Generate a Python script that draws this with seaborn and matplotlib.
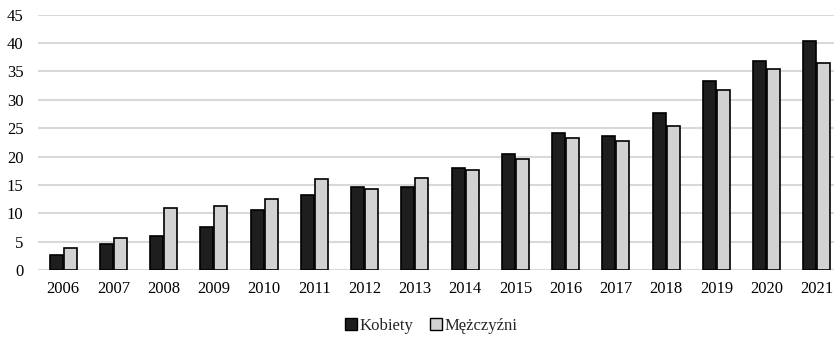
import matplotlib
matplotlib.use("Agg")
import matplotlib.pyplot as plt
import seaborn as sns
import pandas as pd

years = ["2006", "2007", "2008", "2009", "2010", "2011", "2012", "2013",
         "2014", "2015", "2016", "2017", "2018", "2019", "2020", "2021"]
kobiety = [2.7, 4.6, 6.0, 7.5, 10.6, 13.2, 14.6, 14.6,
           18.0, 20.4, 24.1, 23.7, 27.7, 33.4, 36.8, 40.3]
mezczyzni = [3.8, 5.6, 11.0, 11.2, 12.6, 16.0, 14.2, 16.3,
             17.6, 19.6, 23.3, 22.7, 25.4, 31.7, 35.4, 36.4]
series_names = ["Kobiety", "Mężczyźni"]
y_ticks = [0, 5, 10, 15, 20, 25, 30, 35, 40, 45]

df = pd.DataFrame({
    "rok": years * 2,
    "wartosc": kobiety + mezczyzni,
    "plec": [series_names[0]] * len(years) + [series_names[1]] * len(years),
})

sns.set_theme(style="white")
plt.rcParams["font.family"] = ["Liberation Serif", "DejaVu Serif"]

fig = plt.figure(figsize=(8.34, 3.38), dpi=100)
W, H = 834, 338
ax = fig.add_axes([38 / W, 1 - 270 / H, (842 - 38) / W, (270 - 14.7) / H])

sns.barplot(data=df, x="rok", y="wartosc", hue="plec", order=years,
            hue_order=series_names,
            palette={series_names[0]: "#1e1e1e", series_names[1]: "#d2d2d2"},
            width=0.56, gap=0.07, edgecolor="black", linewidth=1.2,
            ax=ax, zorder=3)

ax.set_ylim(0, 45)
ax.set_yticks(y_ticks)
ax.set_yticklabels([str(t) for t in y_ticks])
ax.set_xlim(-0.5, len(years) - 0.5)
ax.grid(axis="y", color="#d9d9d9", linewidth=1.5, zorder=0)
ax.grid(axis="x", visible=False)
ax.set_axisbelow(True)
for s in ax.spines.values():
    s.set_visible(False)
ax.set_xlabel("")
ax.set_ylabel("")
ax.tick_params(axis="y", length=0, pad=10.5, labelsize=12, colors="black")
ax.tick_params(axis="x", length=0, pad=8, labelsize=12, colors="black")

ax.legend_.remove()
handles, labels = ax.get_legend_handles_labels()
leg = fig.legend(handles, labels, loc="center", bbox_to_anchor=(431 / W, 1 - 326 / H),
                 ncol=2, frameon=False, fontsize=12, handlelength=0.72,
                 handleheight=0.72, handletextpad=0.15, columnspacing=1.0)
for h in leg.legend_handles:
    h.set_edgecolor("black")
    h.set_linewidth(1.0)

fig.savefig("out.png", dpi=100, facecolor="white")
